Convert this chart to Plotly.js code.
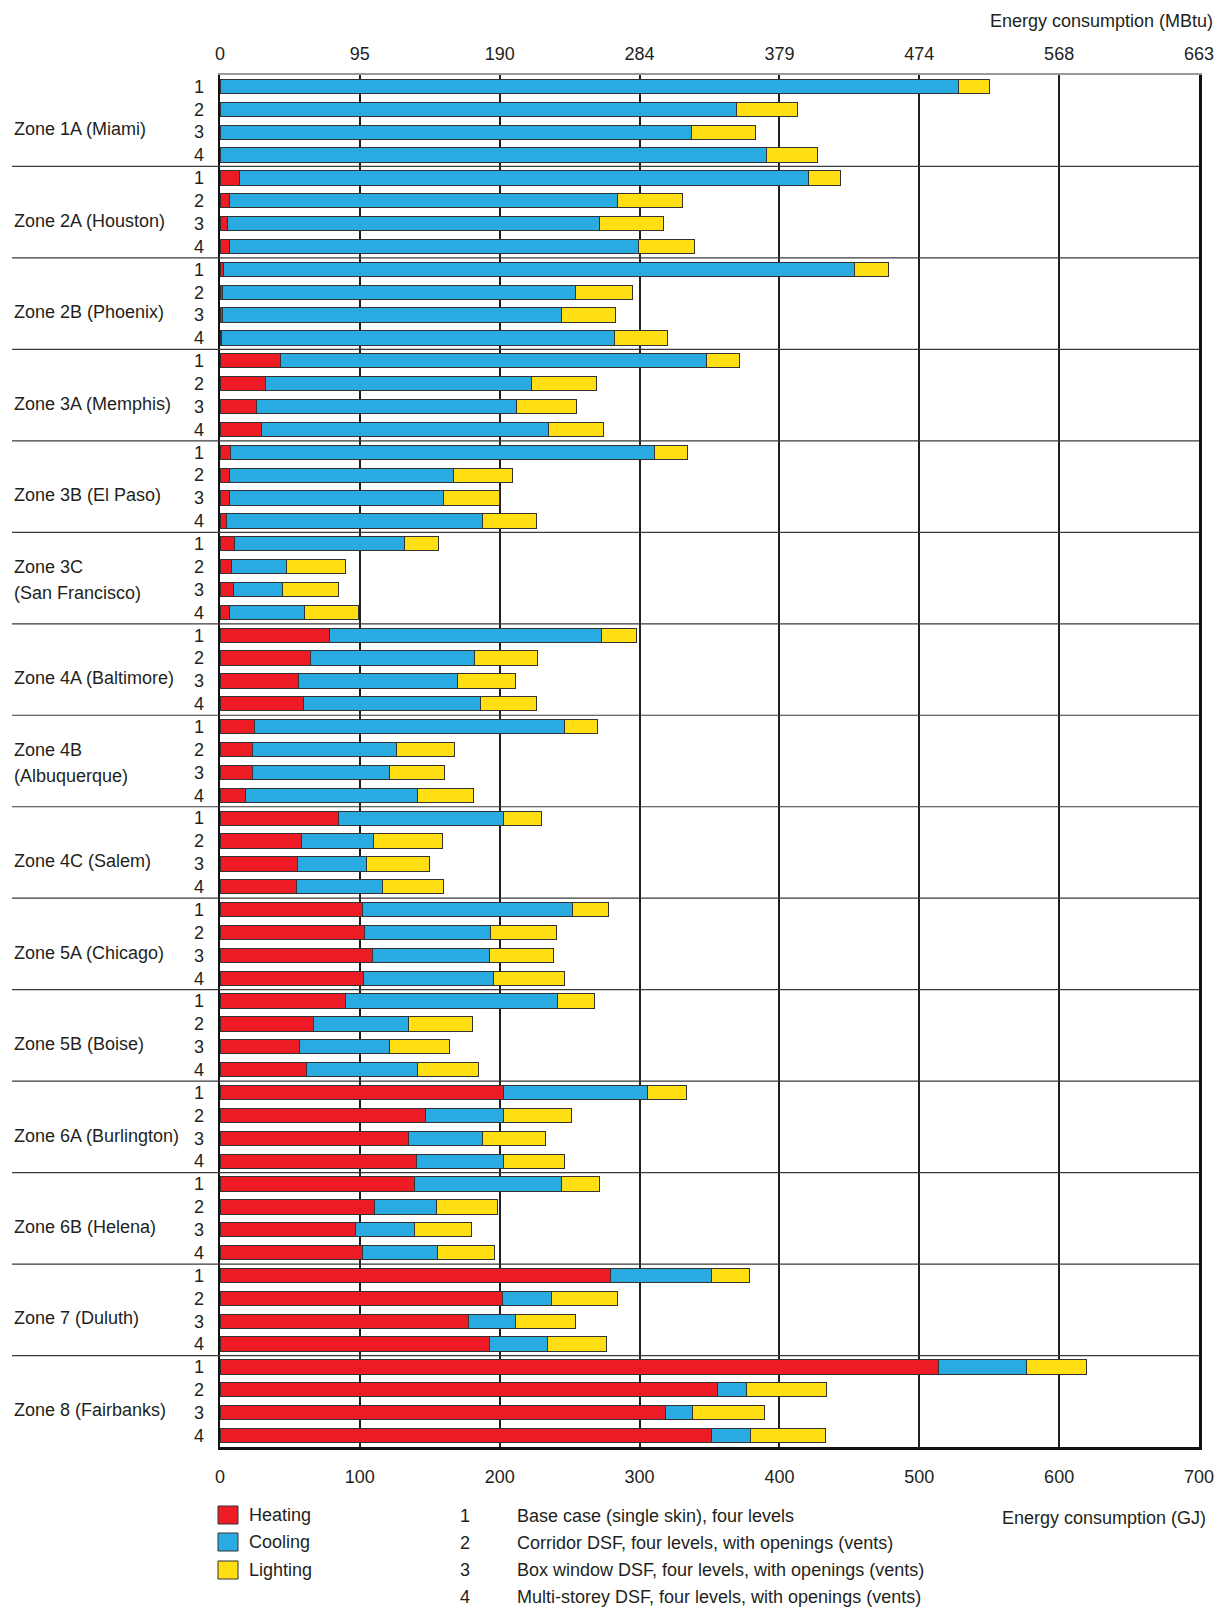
<!DOCTYPE html>
<html>
<head>
<meta charset="utf-8">
<script src="https://cdn.plot.ly/plotly-3.0.1.min.js"></script>
<style>
  html, body { margin: 0; padding: 0; background: #fff; }
  #chart { width: 1225px; height: 1610px; }
</style>
</head>
<body>
<div id="chart"></div>
<script>
// ---------------- DATA ----------------
const zones = [
  'Zone 1A (Miami)', 'Zone 2A (Houston)', 'Zone 2B (Phoenix)', 'Zone 3A (Memphis)',
  'Zone 3B (El Paso)', 'Zone 3C<br>(San Francisco)', 'Zone 4A (Baltimore)',
  'Zone 4B<br>(Albuquerque)', 'Zone 4C (Salem)', 'Zone 5A (Chicago)', 'Zone 5B (Boise)',
  'Zone 6A (Burlington)', 'Zone 6B (Helena)', 'Zone 7 (Duluth)', 'Zone 8 (Fairbanks)'
];
const cases = ['1', '2', '3', '4'];
const caseDescriptions = [
  'Base case (single skin), four levels',
  'Corridor DSF, four levels, with openings (vents)',
  'Box window DSF, four levels, with openings (vents)',
  'Multi-storey DSF, four levels, with openings (vents)'
];
const seriesNames = ['Heating', 'Cooling', 'Lighting'];
const gjTicks = [0, 100, 200, 300, 400, 500, 600, 700];
const mbtuTickLabels = ['0', '95', '190', '284', '379', '474', '568', '663'];

// Energy consumption (GJ), 4 cases per zone, zones in order above
const heating = [
  0, 0, 0, 0,                 // 1A
  14, 7, 5.5, 6.5,            // 2A
  2.5, 1.5, 1.5, 1,           // 2B
  43.5, 32.5, 26, 30,         // 3A
  7.5, 7, 6.5, 5,             // 3B
  10.5, 8.5, 9.5, 6.5,        // 3C
  78, 65, 56, 59.5,           // 4A
  24.5, 23.5, 23, 18.5,       // 4B
  85, 58, 55.5, 55,           // 4C
  102, 103, 109, 102.5,       // 5A
  90, 67, 56.5, 61.5,         // 5B
  202.5, 147, 134.5, 140.5,   // 6A
  139, 110.5, 97, 102,        // 6B
  279, 202, 177.5, 193,       // 7
  513.5, 356, 318.5, 351.5    // 8
];
const cooling = [
  528, 369, 337, 391,
  407, 277, 266, 293,
  451.5, 252.5, 243, 281,
  304, 190.5, 186, 205,
  303, 160, 153.5, 183,
  121.5, 39, 35, 54,
  195, 117, 113.5, 127,
  222, 103, 98.5, 122.5,
  117.5, 52, 49, 61.5,
  150, 90.5, 83.5, 93,
  151, 67.5, 65, 80,
  103, 56, 53.5, 62.5,
  105.5, 44.5, 42, 53.5,
  72.5, 35, 33.5, 41.5,
  63.5, 20.5, 19, 28
];
const lighting = [
  22, 44, 46, 36,
  23, 47, 45.5, 40,
  24, 41, 38.5, 38,
  24, 46, 43, 39,
  23.5, 42, 39.5, 38.5,
  24, 42.5, 40, 38.5,
  24.5, 45, 42, 39.5,
  23.5, 41.5, 39, 40,
  27.5, 49, 45, 43.5,
  26, 47, 46, 51,
  27, 46, 42.5, 43,
  28, 48.5, 45, 43,
  26.5, 43.5, 40.5, 40.5,
  27, 47, 43.5, 42,
  42.5, 57, 51.5, 53.5
];
const seriesColors = ['#ED1C24', '#29ABE2', '#FFDE14'];

// ---------------- BUILD ----------------
const FONT = 'Liberation Sans, Arial, sans-serif';
const TXT = '#231F20';
const rows = [];
const rowLabels = [];
zones.forEach((z, zi) => cases.forEach((c, ci) => { rows.push(zi * cases.length + ci); rowLabels.push(c); }));

const values = [heating, cooling, lighting];
const traces = values.map((v, i) => ({
  type: 'bar', orientation: 'h', name: seriesNames[i],
  x: v, y: rows,
  marker: { color: seriesColors[i], line: { color: '#333', width: 1 } },
  showlegend: false, hoverinfo: 'x+name'
}));
// invisible trace to carry the top (MBtu) axis
traces.push({
  type: 'scatter', mode: 'markers', x: gjTicks, y: gjTicks.map(() => rows[0]),
  xaxis: 'x2', marker: { opacity: 0 }, hoverinfo: 'skip', showlegend: false
});

// plot-area pixel geometry
const L = 220, R = 26, T = 75, B = 163, W = 1225, H = 1610;
const pw = W - L - R, ph = H - T - B;
const px = (x) => (x - L) / pw;
const py = (y) => (H - B - y) / ph;

const shapes = [];
const annotations = [];

// zone separators
for (let zi = 1; zi < zones.length; zi++) {
  shapes.push({
    type: 'line', xref: 'paper', yref: 'y', x0: px(12), x1: 1,
    y0: zi * cases.length - 0.5, y1: zi * cases.length - 0.5,
    line: { color: '#3a3a3a', width: 1.2 }, layer: 'above'
  });
}
// zone labels
zones.forEach((z, zi) => {
  const parts = z.split('<br>');
  if (parts.length === 1) {
    annotations.push({ xref: 'paper', yref: 'y', x: px(12), y: zi * 4 + 1.88,
      xanchor: 'left', yanchor: 'middle', text: parts[0], showarrow: false,
      font: { family: FONT, size: 18, color: TXT } });
  } else {
    annotations.push({ xref: 'paper', yref: 'y', x: px(12), y: zi * 4 + 1.0,
      xanchor: 'left', yanchor: 'middle', text: parts[0], showarrow: false,
      font: { family: FONT, size: 18, color: TXT } });
    annotations.push({ xref: 'paper', yref: 'y', x: px(12), y: zi * 4 + 2.15,
      xanchor: 'left', yanchor: 'middle', text: parts[1], showarrow: false,
      font: { family: FONT, size: 18, color: TXT } });
  }
});
// axis titles
annotations.push({ xref: 'paper', yref: 'paper', x: px(1215), y: py(21),
  xanchor: 'right', yanchor: 'middle', text: 'Energy consumption (MBtu)', showarrow: false,
  font: { family: FONT, size: 18, color: TXT } });
annotations.push({ xref: 'paper', yref: 'paper', x: px(1208), y: py(1518),
  xanchor: 'right', yanchor: 'middle', text: 'Energy consumption (GJ)', showarrow: false,
  font: { family: FONT, size: 18, color: TXT } });
// series legend
const legY = [1515, 1542, 1570];
seriesNames.forEach((n, i) => {
  shapes.push({ type: 'rect', xref: 'paper', yref: 'paper',
    x0: px(218), x1: px(238), y0: py(legY[i] + 9), y1: py(legY[i] - 9),
    fillcolor: seriesColors[i], line: { color: '#333', width: 1 } });
  annotations.push({ xref: 'paper', yref: 'paper', x: px(247), y: py(legY[i]),
    xanchor: 'left', yanchor: 'middle', text: n, showarrow: false,
    font: { family: FONT, size: 18, color: TXT } });
});
// case legend
const caseY = [1516, 1543, 1570, 1597];
cases.forEach((c, i) => {
  annotations.push({ xref: 'paper', yref: 'paper', x: px(465), y: py(caseY[i]),
    xanchor: 'center', yanchor: 'middle', text: c, showarrow: false,
    font: { family: FONT, size: 18, color: TXT } });
  annotations.push({ xref: 'paper', yref: 'paper', x: px(515), y: py(caseY[i]),
    xanchor: 'left', yanchor: 'middle', text: caseDescriptions[i], showarrow: false,
    font: { family: FONT, size: 18, color: TXT } });
});

const layout = {
  width: W, height: H,
  margin: { l: L, r: R, t: T, b: B, pad: 0 },
  paper_bgcolor: '#fff', plot_bgcolor: '#fff',
  barmode: 'stack', bargap: 0.375,
  font: { family: FONT, size: 18, color: TXT },
  xaxis: {
    range: [0, 700], tickvals: gjTicks, ticktext: gjTicks.map(String),
    showgrid: true, gridcolor: '#231F20', gridwidth: 2,
    zeroline: false, showline: true, linecolor: '#111', linewidth: 2.5,
    ticks: '', ticklabelstandoff: 12, tickfont: { family: FONT, size: 18, color: TXT },
    fixedrange: true
  },
  xaxis2: {
    overlaying: 'x', side: 'top', range: [0, 700], tickvals: gjTicks, ticktext: mbtuTickLabels,
    showgrid: false, zeroline: false, showline: true, linecolor: '#9a9a9a', linewidth: 2,
    ticks: '', ticklabelstandoff: 6, tickfont: { family: FONT, size: 18, color: TXT },
    fixedrange: true
  },
  yaxis: {
    range: [rows.length - 0.5, -0.5], tickvals: rows, ticktext: rowLabels,
    showgrid: false, zeroline: false, showline: true, mirror: true,
    linecolor: '#111', linewidth: 2.5, ticks: '', ticklabelstandoff: 10,
    tickfont: { family: FONT, size: 18, color: TXT }, fixedrange: true
  },
  shapes: shapes,
  annotations: annotations
};

Plotly.newPlot('chart', traces, layout, { displayModeBar: false, staticPlot: true });
</script>
</body>
</html>
